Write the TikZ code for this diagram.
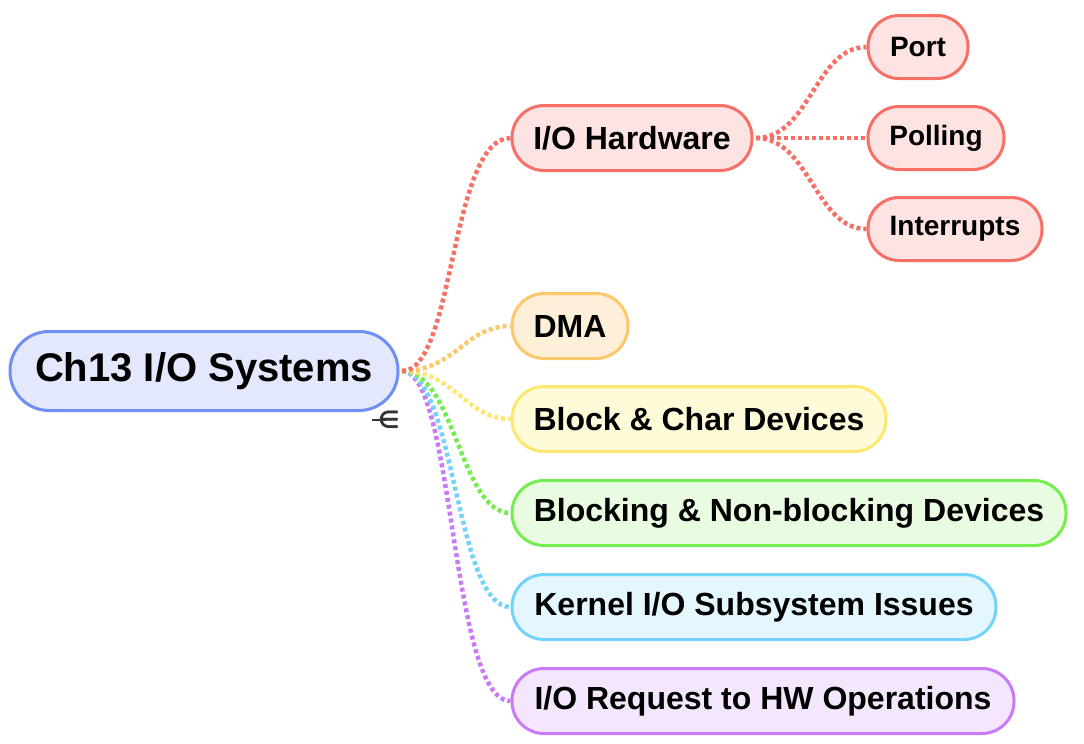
\documentclass[tikz,border=0pt]{standalone}
\usepackage{fontspec}
\setmainfont{Liberation Sans}
\newfontfamily\symfont{DejaVu Sans}
\definecolor{rootb}{HTML}{6F8FF5}\definecolor{rootf}{HTML}{E3E8FC}
\definecolor{redb}{HTML}{F77066}\definecolor{redf}{HTML}{FDE3E2}
\definecolor{orab}{HTML}{FEC76A}\definecolor{oraf}{HTML}{FEEFD9}
\definecolor{yelb}{HTML}{FFE66E}\definecolor{yelf}{HTML}{FFFBD9}
\definecolor{greb}{HTML}{75ED4F}\definecolor{gref}{HTML}{E9FBE1}
\definecolor{cyab}{HTML}{74D3FC}\definecolor{cyaf}{HTML}{E4F6FE}
\definecolor{purb}{HTML}{C97AF7}\definecolor{purf}{HTML}{F4E6FD}
\tikzset{
  pill/.style={draw, line width=3pt, inner sep=0pt, font=\bfseries},
  rootbox/.style={pill, draw=rootb, fill=rootf, minimum width=388pt, minimum height=79pt, rounded corners=39pt, font=\fontsize{40}{44}\selectfont\bfseries},
  childbox/.style={pill, minimum height=65pt, rounded corners=32pt, font=\fontsize{32}{36}\selectfont\bfseries},
  leafbox/.style={pill, draw=redb, fill=redf, minimum height=63pt, rounded corners=31pt, font=\fontsize{28}{32}\selectfont\bfseries},
  link/.style={line width=4.5pt, dash pattern=on 4pt off 3pt}
}
\begin{document}
\begin{tikzpicture}[x=1pt,y=-1pt]
\useasboundingbox (0,0) rectangle (1084,744);
% nodes
\node[rootbox] (root) at (204,371) {Ch13 I/O Systems};
\node[childbox, draw=redb, fill=redf, minimum width=240pt] (hw) at (632,138) {I/O Hardware};
\node[leafbox, minimum width=100pt] (port) at (918,47) {Port};
\node[leafbox, minimum width=136pt] (poll) at (936,138) {Polling};
\node[leafbox, minimum width=174pt] (intr) at (955,229) {Interrupts};
\node[childbox, draw=orab, fill=oraf, minimum width=116pt] (dma) at (570,326) {DMA};
\node[childbox, draw=yelb, fill=yelf, minimum width=374pt] (bcd) at (699,419) {Block \& Char Devices};
\node[childbox, draw=greb, fill=gref, minimum width=554pt] (bnb) at (789,513) {Blocking \& Non-blocking Devices};
\node[childbox, draw=cyab, fill=cyaf, minimum width=484pt] (kio) at (754,607) {Kernel I/O Subsystem Issues};
\node[childbox, draw=purb, fill=purf, minimum width=502pt] (req) at (763,701) {I/O Request to HW Operations};
% anchors
\coordinate (rs) at (402,371);
\coordinate (hs) at (756,138);
% connectors
\draw[link, draw=purb] (rs) .. controls (455,371) and (450,701) .. (req.west);
\draw[link, draw=cyab] (rs) .. controls (455,371) and (455,607) .. (kio.west);
\draw[link, draw=greb] (rs) .. controls (455,371) and (460,513) .. (bnb.west);
\draw[link, draw=yelb] (rs) .. controls (455,371) and (465,419) .. (bcd.west);
\draw[link, draw=orab] (rs) .. controls (455,371) and (465,326) .. (dma.west);
\draw[link, draw=redb] (rs) .. controls (455,371) and (450,138) .. (hw.west);
\draw[link, draw=redb] (hs) .. controls (810,138) and (815,47) .. (port.west);
\draw[link, draw=redb] (hs) -- (poll.west);
\draw[link, draw=redb] (hs) .. controls (810,138) and (815,229) .. (intr.west);
% collapse marker
\coordinate (mkl) at (372,420);
\coordinate (mkr) at (386,420);
\draw[line width=2.5pt, black!80] (mkl) -- (mkr);
\node[inner sep=0pt, text=black!80, font=\symfont\bfseries\fontsize{24}{24}\selectfont] (mk) at (389,420) {∈};
\end{tikzpicture}
\end{document}
